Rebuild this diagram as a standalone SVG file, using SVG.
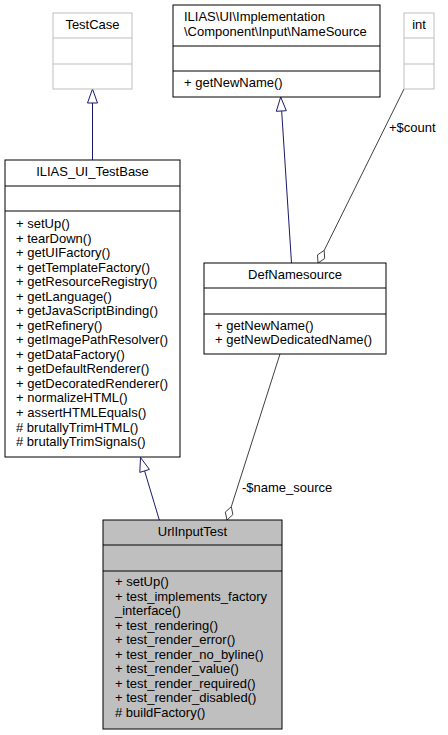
<svg xmlns="http://www.w3.org/2000/svg" width="448" height="735" viewBox="0 0 448 735">
<style>
text{font-family:"Liberation Sans",Arial,sans-serif;font-size:13px;fill:#000}
.c{text-anchor:middle}
.box{fill:#fff;stroke:#000;stroke-width:1}
.gbox{fill:#fff;stroke:#bfbfbf;stroke-width:1}
.cur{fill:#bfbfbf;stroke:#000;stroke-width:1}
.inh{stroke:#191970;fill:none;stroke-width:1}
.inhh{stroke:#191970;fill:#fff;stroke-width:1}
.agg{stroke:#404040;fill:none;stroke-width:1}
.aggh{stroke:#404040;fill:#fff;stroke-width:1}
</style>
<rect width="448" height="735" fill="#fff"/>
<g id="edges">
  <line class="inh" x1="92.5" y1="160" x2="92.5" y2="103"/>
  <polygon class="inhh" points="92.5,89 97.5,103 87.5,103"/>
  <line class="inh" x1="291.5" y1="263" x2="281.6" y2="110"/>
  <polygon class="inhh" points="280.7,97 286.3,110.7 276.3,111.3"/>
  <line class="agg" x1="404" y1="89" x2="324.2" y2="250.4"/>
  <polygon class="aggh" points="318,263 317.5,254.9 324.2,250.4 324.7,258.5"/>
  <text x="389" y="132">+$count</text>
  <line class="agg" x1="280" y1="354" x2="231.3" y2="506.7"/>
  <polygon class="aggh" points="227,520 225.3,512.1 231.3,506.7 232.9,514.6"/>
  <text x="242" y="492">-$name_source</text>
  <line class="inh" x1="159.3" y1="520" x2="144.6" y2="470.9"/>
  <polygon class="inhh" points="140.5,457.5 149.4,469.4 139.8,472.4"/>
</g>
<g id="TestCase">
  <rect class="gbox" x="53" y="13" width="79" height="76"/>
  <line class="gbox" x1="53" y1="38" x2="132" y2="38"/>
  <line class="gbox" x1="53" y1="64" x2="132" y2="64"/>
  <text class="c" x="92.5" y="29">TestCase</text>
</g>
<g id="NameSource">
  <rect class="box" x="173" y="5" width="207" height="92"/>
  <line class="box" x1="173" y1="46" x2="380" y2="46"/>
  <line class="box" x1="173" y1="71" x2="380" y2="71"/>
  <text x="184" y="21">ILIAS\UI\Implementation</text>
  <text x="184" y="35.5">\Component\Input\NameSource</text>
  <text x="184" y="87">+ getNewName()</text>
</g>
<g id="int">
  <rect class="gbox" x="404" y="13" width="30" height="76"/>
  <line class="gbox" x1="404" y1="38" x2="434" y2="38"/>
  <line class="gbox" x1="404" y1="64" x2="434" y2="64"/>
  <text class="c" x="419" y="29">int</text>
</g>
<g id="TestBase">
  <rect class="box" x="5" y="160" width="175" height="297"/>
  <line class="box" x1="5" y1="186" x2="180" y2="186"/>
  <line class="box" x1="5" y1="211" x2="180" y2="211"/>
  <text class="c" x="92.5" y="176">ILIAS_UI_TestBase</text>
  <text x="16" y="228">+ setUp()</text>
  <text x="16" y="242.5">+ tearDown()</text>
  <text x="16" y="257">+ getUIFactory()</text>
  <text x="16" y="271.6">+ getTemplateFactory()</text>
  <text x="16" y="286.1">+ getResourceRegistry()</text>
  <text x="16" y="300.7">+ getLanguage()</text>
  <text x="16" y="315.2">+ getJavaScriptBinding()</text>
  <text x="16" y="329.7">+ getRefinery()</text>
  <text x="16" y="344.2">+ getImagePathResolver()</text>
  <text x="16" y="358.8">+ getDataFactory()</text>
  <text x="16" y="373.3">+ getDefaultRenderer()</text>
  <text x="16" y="387.8">+ getDecoratedRenderer()</text>
  <text x="16" y="402.4">+ normalizeHTML()</text>
  <text x="16" y="416.9">+ assertHTMLEquals()</text>
  <text x="16" y="431.5">#&#160;brutallyTrimHTML()</text>
  <text x="16" y="446">#&#160;brutallyTrimSignals()</text>
</g>
<g id="DefNamesource">
  <rect class="box" x="204" y="263" width="182" height="91"/>
  <line class="box" x1="204" y1="288" x2="386" y2="288"/>
  <line class="box" x1="204" y1="314" x2="386" y2="314"/>
  <text class="c" x="295" y="279">DefNamesource</text>
  <text x="215" y="329.5">+ getNewName()</text>
  <text x="215" y="344">+ getNewDedicatedName()</text>
</g>
<g id="UrlInputTest">
  <rect class="cur" x="103" y="520" width="179" height="209"/>
  <line class="cur" x1="103" y1="545" x2="282" y2="545"/>
  <line class="cur" x1="103" y1="571" x2="282" y2="571"/>
  <text class="c" x="192.5" y="536">UrlInputTest</text>
  <text x="115" y="586">+ setUp()</text>
  <text x="115" y="600.5">+ test_implements_factory</text>
  <text x="115" y="615">_interface()</text>
  <text x="115" y="629.5">+ test_rendering()</text>
  <text x="115" y="644">+ test_render_error()</text>
  <text x="115" y="658.5">+ test_render_no_byline()</text>
  <text x="115" y="673">+ test_render_value()</text>
  <text x="115" y="687.5">+ test_render_required()</text>
  <text x="115" y="702">+ test_render_disabled()</text>
  <text x="115" y="716.5">#&#160;buildFactory()</text>
</g>
</svg>
